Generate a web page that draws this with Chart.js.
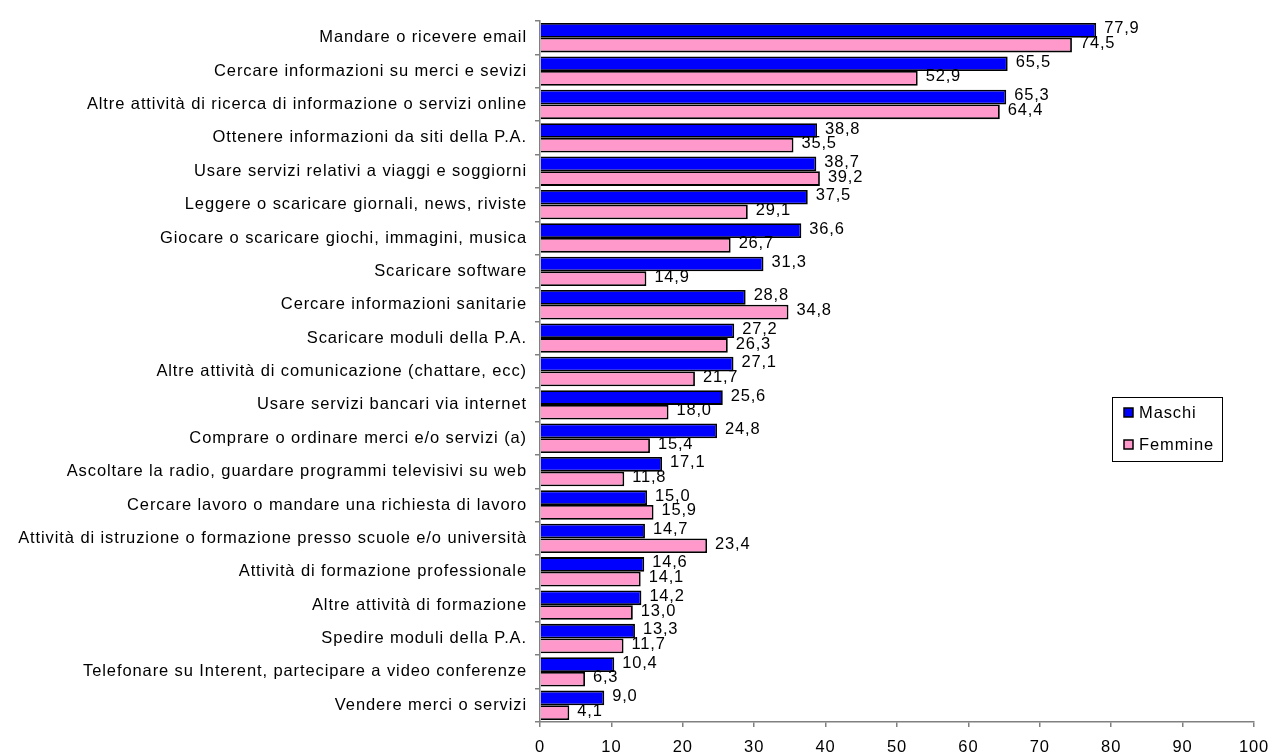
<!DOCTYPE html>
<html>
<head>
<meta charset="utf-8">
<script src="https://cdn.jsdelivr.net/npm/chart.js@4.4.1/dist/chart.umd.min.js"></script>
<style>
  html, body { margin: 0; padding: 0; background: #ffffff; }
  #wrap { width: 1273px; height: 756px; position: relative; }
</style>
</head>
<body>
<div id="wrap"><canvas id="c"></canvas></div>
<script>
const categories = [
  "Mandare o ricevere email",
  "Cercare informazioni su merci e sevizi",
  "Altre attività di ricerca di informazione o servizi online",
  "Ottenere informazioni da siti della P.A.",
  "Usare servizi relativi a viaggi e soggiorni",
  "Leggere o scaricare giornali, news, riviste",
  "Giocare o scaricare giochi, immagini, musica",
  "Scaricare software",
  "Cercare informazioni sanitarie",
  "Scaricare moduli della P.A.",
  "Altre attività di comunicazione (chattare, ecc)",
  "Usare servizi bancari via internet",
  "Comprare o ordinare merci e/o servizi (a)",
  "Ascoltare la radio, guardare programmi televisivi su web",
  "Cercare lavoro o mandare una richiesta di lavoro",
  "Attività di istruzione o formazione presso scuole e/o università",
  "Attività di formazione professionale",
  "Altre attività di formazione",
  "Spedire moduli della P.A.",
  "Telefonare su Interent, partecipare a video conferenze",
  "Vendere merci o servizi"
];
const maschi  = [77.9, 65.5, 65.3, 38.8, 38.7, 37.5, 36.6, 31.3, 28.8, 27.2, 27.1, 25.6, 24.8, 17.1, 15.0, 14.7, 14.6, 14.2, 13.3, 10.4, 9.0];
const femmine = [74.5, 52.9, 64.4, 35.5, 39.2, 29.1, 26.7, 14.9, 34.8, 26.3, 21.7, 18.0, 15.4, 11.8, 15.9, 23.4, 14.1, 13.0, 11.7, 6.3, 4.1];
const seriesNames = ["Maschi", "Femmine"];
const xTicks = [0, 10, 20, 30, 40, 50, 60, 70, 80, 90, 100];

const FONT = '"Liberation Sans", Arial, sans-serif';

const spacingPlugin = {
  id: 'spacing',
  beforeDraw(chart) { chart.ctx.letterSpacing = '0.9px'; }
};

const valueLabels = {
  id: 'valueLabels',
  afterDatasetsDraw(chart) {
    const ctx = chart.ctx;
    ctx.save();
    ctx.letterSpacing = '0.8px';
    ctx.font = '16.5px ' + FONT;
    ctx.fillStyle = '#000';
    ctx.textAlign = 'left';
    ctx.textBaseline = 'middle';
    chart.data.datasets.forEach((ds, i) => {
      chart.getDatasetMeta(i).data.forEach((el, j) => {
        const txt = ds.data[j].toFixed(1).replace('.', ',');
        ctx.fillText(txt, el.x + 8, el.y - 1.5);
      });
    });
    ctx.restore();
  }
};

const boxLegend = {
  id: 'boxLegend',
  afterDraw(chart) {
    const ctx = chart.ctx;
    ctx.save();
    ctx.letterSpacing = '0.9px';
    const bx = 1112, by = 397, bw = 110, bh = 64;
    ctx.strokeStyle = '#000';
    ctx.lineWidth = 1;
    ctx.strokeRect(bx + 0.5, by + 0.5, bw, bh);
    ctx.font = '16.5px ' + FONT;
    ctx.textBaseline = 'middle';
    ctx.textAlign = 'left';
    const ys = [by + 16, by + 48];
    chart.data.datasets.forEach((ds, i) => {
      const y = ys[i];
      ctx.fillStyle = ds.backgroundColor;
      ctx.fillRect(bx + 12, y - 5, 9, 9);
      ctx.strokeStyle = '#000';
      ctx.lineWidth = 1.5;
      ctx.strokeRect(bx + 12, y - 5, 9, 9);
      ctx.fillStyle = '#000';
      ctx.fillText(ds.label, bx + 27, y);
    });
    ctx.restore();
  }
};

new Chart(document.getElementById('c'), {
  type: 'bar',
  data: {
    labels: categories,
    datasets: [
      { label: seriesNames[0], data: maschi, backgroundColor: '#0000FF', borderColor: '#000000', borderWidth: 1.8 },
      { label: seriesNames[1], data: femmine, backgroundColor: '#FF99CC', borderColor: '#000000', borderWidth: 1.8 }
    ]
  },
  options: {
    indexAxis: 'y',
    responsive: true,
    maintainAspectRatio: false,
    animation: false,
    devicePixelRatio: 1,
    categoryPercentage: 0.88,
    barPercentage: 1.0,
    layout: { padding: { top: 21, right: 19, left: 0, bottom: 0 } },
    plugins: {
      legend: { display: false },
      tooltip: { enabled: false }
    },
    scales: {
      x: {
        min: 0, max: 100,
        afterBuildTicks(scale) { scale.ticks = xTicks.map(v => ({ value: v })); },
        afterFit(scale) { scale.height = 34; scale.paddingRight = 0; scale.paddingLeft = 0; },
        grid: { drawOnChartArea: false, drawTicks: true, tickLength: 5, color: '#808080', lineWidth: 1.5 },
        border: { display: true, color: '#808080', width: 1.5 },
        ticks: { color: '#000', font: { family: FONT, size: 16.5 }, padding: 11, maxRotation: 0, autoSkip: false }
      },
      y: {
        afterFit(scale) { scale.width = 540; scale.paddingTop = 0; scale.paddingBottom = 0; },
        grid: { drawOnChartArea: false, drawTicks: true, tickLength: 5, offset: true, color: '#808080', lineWidth: 1.5 },
        border: { display: true, color: '#808080', width: 1.5 },
        ticks: { color: '#000', font: { family: FONT, size: 16.5 }, padding: 8, autoSkip: false }
      }
    }
  },
  plugins: [spacingPlugin, valueLabels, boxLegend]
});
</script>
</body>
</html>
